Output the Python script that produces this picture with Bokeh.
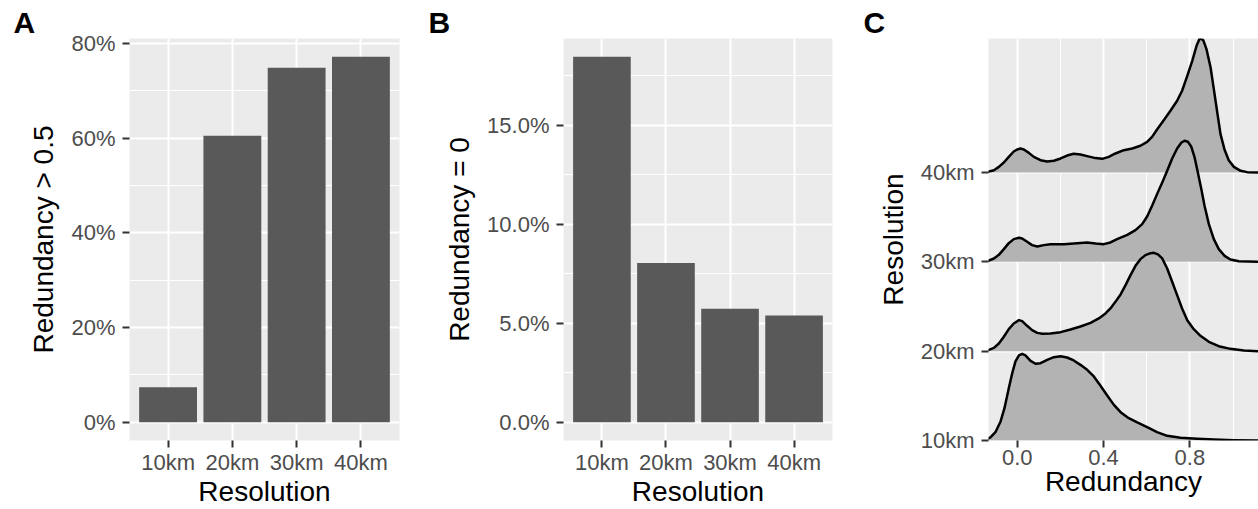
from bokeh.plotting import figure
from bokeh.models import (FactorRange, Range1d, FixedTicker, NumeralTickFormatter,
                          PrintfTickFormatter, Title, ColumnDataSource)
from bokeh.layouts import row
from bokeh.embed import file_html
from bokeh.resources import INLINE

# ---------------- data ----------------
resolutions = ["10km", "20km", "30km", "40km"]
share_above_half = [0.074, 0.605, 0.749, 0.772]      # panel A
share_zero = [0.1847, 0.0805, 0.0573, 0.0539]        # panel B

# panel C: ridge outlines (redundancy, scaled density)
red_10 = [-0.170, -0.147, -0.124, -0.101, -0.077, -0.059, -0.039, -0.023, -0.008, 0.008,
          0.023, 0.038, 0.062, 0.085, 0.108, 0.139, 0.170, 0.201, 0.231, 0.262,
          0.293, 0.324, 0.355, 0.386, 0.417, 0.448, 0.479, 0.517, 0.556, 0.602,
          0.648, 0.695, 0.757, 0.834, 0.911, 1.004, 1.12]
dens_10 = [0, 0.007, 0.034, 0.093, 0.213, 0.362, 0.586, 0.754, 0.885, 0.952,
           0.971, 0.952, 0.892, 0.859, 0.866, 0.903, 0.933, 0.944, 0.929, 0.896,
           0.847, 0.791, 0.717, 0.612, 0.504, 0.399, 0.317, 0.250, 0.202, 0.149,
           0.093, 0.052, 0.030, 0.019, 0.011, 0.004, 0]
red_20 = [-0.170, -0.139, -0.108, -0.085, -0.062, -0.039, -0.016, 0.008, 0.023, 0.046,
          0.069, 0.093, 0.116, 0.154, 0.201, 0.247, 0.293, 0.340, 0.378, 0.409,
          0.432, 0.455, 0.479, 0.502, 0.525, 0.548, 0.571, 0.594, 0.618, 0.633,
          0.652, 0.672, 0.695, 0.718, 0.741, 0.764, 0.788, 0.818, 0.849, 0.888,
          0.934, 0.988, 1.050, 1.12]
dens_20 = [0, 0.007, 0.037, 0.086, 0.161, 0.246, 0.310, 0.347, 0.336, 0.284,
           0.235, 0.205, 0.194, 0.198, 0.213, 0.243, 0.276, 0.317, 0.366, 0.422,
           0.478, 0.552, 0.635, 0.739, 0.851, 0.955, 1.030, 1.075, 1.097, 1.101,
           1.083, 1.038, 0.926, 0.777, 0.627, 0.478, 0.347, 0.246, 0.172, 0.105,
           0.056, 0.026, 0.007, 0]
red_30 = [-0.170, -0.139, -0.108, -0.085, -0.062, -0.039, -0.016, 0.008, 0.023, 0.046,
          0.069, 0.093, 0.123, 0.154, 0.216, 0.278, 0.324, 0.363, 0.401, 0.432,
          0.463, 0.510, 0.548, 0.579, 0.602, 0.625, 0.648, 0.672, 0.695, 0.718,
          0.741, 0.761, 0.775, 0.791, 0.806, 0.822, 0.837, 0.853, 0.868, 0.888,
          0.911, 0.934, 0.961, 0.988, 1.027, 1.12]
dens_30 = [0, 0.007, 0.037, 0.078, 0.142, 0.209, 0.254, 0.269, 0.261, 0.224,
           0.187, 0.172, 0.187, 0.198, 0.198, 0.209, 0.217, 0.205, 0.198, 0.217,
           0.254, 0.302, 0.355, 0.422, 0.508, 0.627, 0.758, 0.888, 1.019, 1.157,
           1.269, 1.336, 1.355, 1.344, 1.292, 1.168, 1.000, 0.814, 0.627, 0.422,
           0.254, 0.142, 0.067, 0.026, 0.007, 0]
red_40 = [-0.170, -0.139, -0.108, -0.085, -0.062, -0.039, -0.016, 0.000, 0.015, 0.031,
          0.054, 0.077, 0.108, 0.139, 0.170, 0.201, 0.231, 0.262, 0.293, 0.324,
          0.363, 0.394, 0.424, 0.455, 0.494, 0.533, 0.571, 0.602, 0.625, 0.648,
          0.679, 0.710, 0.741, 0.764, 0.788, 0.811, 0.831, 0.846, 0.862, 0.877,
          0.896, 0.911, 0.927, 0.942, 0.960, 0.980, 1.004, 1.035, 1.066, 1.12]
dens_40 = [0, 0.007, 0.026, 0.063, 0.112, 0.175, 0.235, 0.258, 0.269, 0.258,
           0.220, 0.175, 0.138, 0.123, 0.131, 0.157, 0.190, 0.209, 0.202, 0.183,
           0.161, 0.153, 0.175, 0.213, 0.250, 0.269, 0.299, 0.343, 0.399, 0.482,
           0.586, 0.691, 0.803, 0.915, 1.082, 1.250, 1.418, 1.504, 1.482, 1.381,
           1.176, 0.933, 0.672, 0.429, 0.261, 0.138, 0.063, 0.019, 0.004, 0]

redundancy_ticks = [0.0, 0.4, 0.8]
redundancy_minor = [0.2, 0.6, 1.0]

# ---------------- styling helpers ----------------
FONT = "Liberation Sans"
PANEL_BG = "#EBEBEB"
BAR = "#595959"
RIDGE = "#B3B3B3"


def style(p):
    p.background_fill_color = PANEL_BG
    p.border_fill_color = "white"
    p.outline_line_color = None
    for ax in (p.xaxis[0], p.yaxis[0]):
        ax.axis_line_color = None
        ax.major_tick_line_color = "#333333"
        ax.major_tick_line_width = 2
        ax.major_tick_in = 0
        ax.major_tick_out = 7
        ax.minor_tick_line_color = None
        ax.major_label_text_font = FONT
        ax.major_label_text_font_size = "22px"
        ax.major_label_text_color = "#4D4D4D"
        ax.axis_label_text_font = FONT
        ax.axis_label_text_font_size = "28px"
        ax.axis_label_text_font_style = "normal"
        ax.axis_label_text_color = "black"
    p.xaxis.major_label_standoff = 2
    p.xaxis.axis_label_standoff = -2
    p.yaxis.major_label_standoff = 7
    p.yaxis.axis_label_standoff = 9
    p.xgrid.grid_line_color = "white"
    p.ygrid.grid_line_color = "white"
    p.xgrid.grid_line_width = 2
    p.ygrid.grid_line_width = 2


def panel_label(p, text, dx):
    p.add_layout(Title(text=text, align="left", offset=dx, standoff=0,
                       text_font=FONT, text_font_style="bold", text_font_size="30px",
                       text_color="black"), "above")


common = dict(height=509, min_border_top=38, min_border_bottom=69,
              output_backend="svg", toolbar_location=None, title=None)

# ---------------- panel A ----------------
pa = figure(x_range=FactorRange(factors=resolutions, range_padding=0.05),
            y_range=Range1d(-0.0386, 0.8106), width=430,
            min_border_left=129, min_border_right=31,
            x_axis_label="Resolution", y_axis_label="Redundancy > 0.5", **common)
pa.vbar(x=resolutions, top=share_above_half, width=0.9, fill_color=BAR, line_color=None)
style(pa)
ta = FixedTicker(ticks=[0, 0.2, 0.4, 0.6, 0.8], minor_ticks=[0.1, 0.3, 0.5, 0.7])
pa.yaxis.ticker = ta
pa.ygrid.ticker = ta
pa.yaxis.formatter = NumeralTickFormatter(format="0%")
pa.ygrid.minor_grid_line_color = "white"
pa.ygrid.minor_grid_line_width = 1
panel_label(pa, "A", -116)

# ---------------- panel B ----------------
pb = figure(x_range=FactorRange(factors=resolutions, range_padding=0.05),
            y_range=Range1d(-0.00924, 0.19394), width=430,
            min_border_left=133, min_border_right=28,
            x_axis_label="Resolution", y_axis_label="Redundancy = 0", **common)
pb.vbar(x=resolutions, top=share_zero, width=0.9, fill_color=BAR, line_color=None)
style(pb)
tb = FixedTicker(ticks=[0, 0.05, 0.10, 0.15], minor_ticks=[0.025, 0.075, 0.125, 0.175])
pb.yaxis.ticker = tb
pb.ygrid.ticker = tb
pb.yaxis.formatter = NumeralTickFormatter(format="0.0%")
pb.ygrid.minor_grid_line_color = "white"
pb.ygrid.minor_grid_line_width = 1
panel_label(pb, "B", -135)

# ---------------- panel C ----------------
pc = figure(x_range=Range1d(-0.133, 1.118), y_range=Range1d(1, 5.5), width=398,
            min_border_left=128, min_border_right=0,
            x_axis_label="Redundancy", y_axis_label="Resolution", **common)
style(pc)
tx = FixedTicker(ticks=redundancy_ticks, minor_ticks=redundancy_minor)
pc.xaxis.ticker = tx
pc.xgrid.ticker = tx
pc.xaxis.formatter = PrintfTickFormatter(format="%.1f")
pc.xgrid.minor_grid_line_color = "white"
pc.xgrid.minor_grid_line_width = 1
ty = FixedTicker(ticks=[i + 1 for i in range(len(resolutions))], minor_ticks=[])
pc.yaxis.ticker = ty
pc.ygrid.ticker = ty
pc.yaxis.major_label_overrides = {i + 1: r for i, r in enumerate(resolutions)}

ridges = [(red_10, dens_10), (red_20, dens_20), (red_30, dens_30), (red_40, dens_40)]
for idx in reversed(range(len(resolutions))):
    xs, ds = ridges[idx]
    base = idx + 1
    src = ColumnDataSource(dict(x=xs, base=[base] * len(xs), top=[base + d for d in ds]))
    pc.varea(x="x", y1="base", y2="top", source=src, fill_color=RIDGE)
    pc.line(x="x", y="top", source=src, line_color="black", line_width=2.5,
            line_join="round")
panel_label(pc, "C", -125)

layout = row(pa, pb, pc)
open("out.html", "w").write(file_html(layout, INLINE))
